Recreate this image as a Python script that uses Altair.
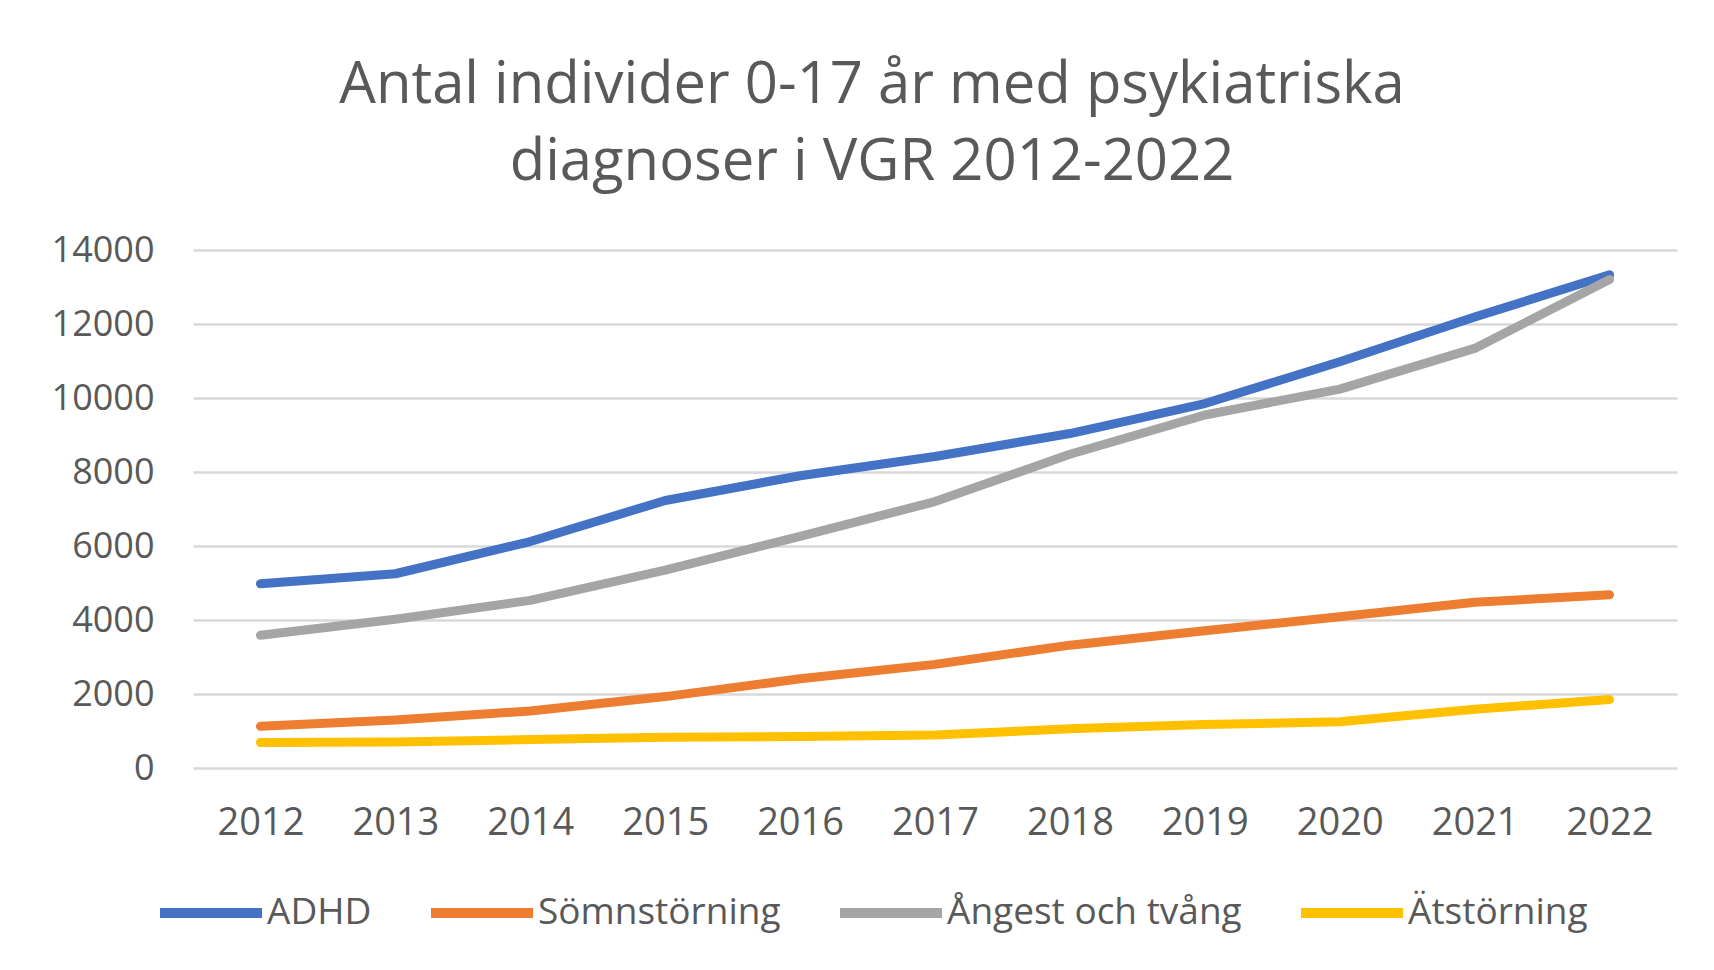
import altair as alt
import pandas as pd

years = ["2012", "2013", "2014", "2015", "2016", "2017", "2018", "2019", "2020", "2021", "2022"]
series_names = ["ADHD", "Sömnstörning", "Ångest och tvång", "Ätstörning"]
adhd = [4980, 5250, 6120, 7230, 7900, 8420, 9040, 9850, 10980, 12190, 13330]
somn = [1130, 1300, 1540, 1930, 2410, 2800, 3320, 3710, 4090, 4480, 4680]
angest = [3590, 4020, 4530, 5350, 6260, 7200, 8480, 9540, 10240, 11340, 13200]
at = [690, 700, 770, 830, 850, 890, 1060, 1175, 1250, 1590, 1850]
colors = ["#4472C4", "#ED7D31", "#A5A5A5", "#FFC000"]
y_ticks = [0, 2000, 4000, 6000, 8000, 10000, 12000, 14000]

rows = []
for name, vals in zip(series_names, [adhd, somn, angest, at]):
    for yr, v in zip(years, vals):
        rows.append({"År": yr, "Serie": name, "Antal": v})
df = pd.DataFrame(rows)

FONT = "Open Sans"
TXT = "#595959"

chart = alt.Chart(df).mark_line(strokeWidth=9, strokeCap="round", strokeJoin="round").encode(
    x=alt.X("År:O", sort=years,
            scale=alt.Scale(type="point", padding=0.5),
            axis=alt.Axis(title=None, labelAngle=0, ticks=False, domain=False,
                          labelPadding=36, labelFontSize=38, labelColor=TXT,
                          labelFont=FONT, grid=False)),
    y=alt.Y("Antal:Q", scale=alt.Scale(domain=[0, 14000], nice=False),
            axis=alt.Axis(title=None, values=y_ticks, ticks=False, domain=False,
                          labelPadding=39, labelFontSize=36, labelColor=TXT,
                          labelFont=FONT, grid=True, gridColor="#D9D9D9",
                          gridWidth=2.5, format="d")),
    color=alt.Color("Serie:N", sort=series_names,
                    scale=alt.Scale(domain=series_names, range=colors),
                    legend=alt.Legend(title=None, orient="none", direction="horizontal",
                                      legendX=-38, legendY=607,
                                      symbolType="stroke", symbolSize=10404,
                                      symbolStrokeWidth=10, labelFontSize=37,
                                      labelFont=FONT, labelColor=TXT, labelLimit=600,
                                      labelOffset=0, columnPadding=39)),
    order=alt.Order("År:O"),
).properties(
    width=1484,
    height=518,
    padding={"left": 185, "top": 242, "right": 29, "bottom": 194},
    autosize=alt.AutoSizeParams(type="none"),
    title=alt.TitleParams(
        text=["Antal individer 0-17 år med psykiatriska", "diagnoser i VGR 2012-2022"],
        font=FONT, fontSize=58, fontWeight="normal", color=TXT,
        anchor="middle", baseline="bottom", lineHeight=77, offset=-18, dx=-63),
).configure(background="white", view=alt.ViewConfig(stroke=None))

chart.save("out.html", embed_options={"renderer": "svg", "actions": False})
